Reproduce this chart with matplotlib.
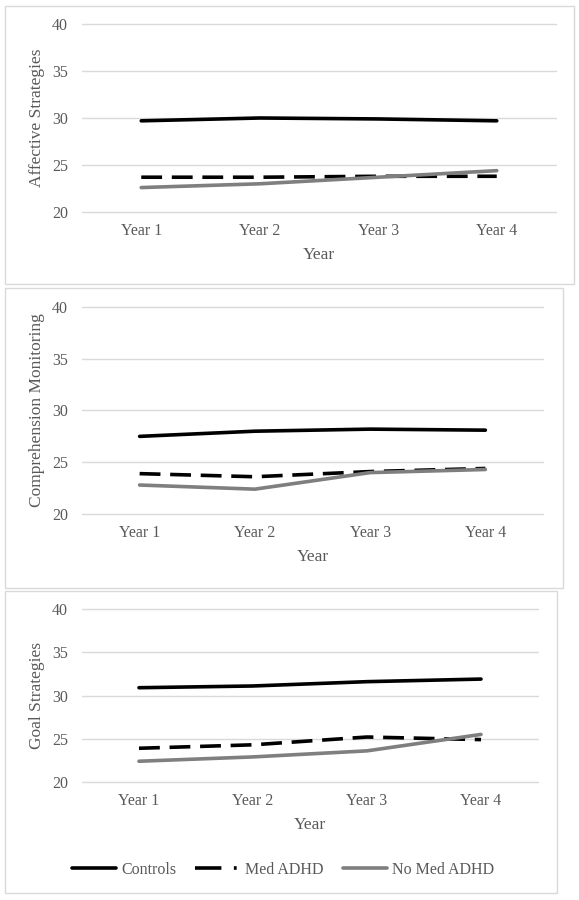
import matplotlib.pyplot as plt
from matplotlib.lines import Line2D
from matplotlib.patches import Rectangle

years = ["Year 1", "Year 2", "Year 3", "Year 4"]
groups = ["Controls", "Med ADHD", "No Med ADHD"]

affective_controls = [29.7, 30.0, 29.9, 29.7]
affective_med = [23.7, 23.7, 23.8, 23.8]
affective_nomed = [22.6, 23.0, 23.7, 24.4]

comprehension_controls = [27.5, 28.0, 28.2, 28.1]
comprehension_med = [23.9, 23.6, 24.1, 24.4]
comprehension_nomed = [22.8, 22.4, 24.0, 24.3]

goal_controls = [30.9, 31.1, 31.6, 31.9]
goal_med = [23.9, 24.3, 25.2, 24.9]
goal_nomed = [22.4, 22.9, 23.6, 25.5]

W, H = 579, 900
FONT = "Liberation Serif"
TXT = "#595959"
GRID = "#d9d9d9"
GRAY = "#7f7f7f"
LW = 2.6
DASH = (15, 7)

plt.rcParams["font.family"] = [FONT, "DejaVu Serif"]
plt.rcParams["lines.scale_dashes"] = False
plt.rcParams["lines.solid_capstyle"] = "round"
plt.rcParams["lines.dash_capstyle"] = "butt"

fig = plt.figure(figsize=(W / 100, H / 100), dpi=100)


def px_rect(x0, y0, x1, y1):
    # pixel box (top-left origin) -> figure fraction [l, b, w, h]
    return [x0 / W, 1 - y1 / H, (x1 - x0) / W, (y1 - y0) / H]


def panel(box, axbox, ylabel, controls, med, nomed):
    l, b, w, h = px_rect(*box)
    fig.patches.append(Rectangle((l, b), w, h, transform=fig.transFigure,
                                 fill=False, edgecolor=GRID, linewidth=1.0))
    ax = fig.add_axes(px_rect(*axbox))
    x = range(len(years))
    ax.plot(x, controls, color="black", lw=LW)
    ax.plot(x, med, color="black", lw=LW, dashes=DASH)
    ax.plot(x, nomed, color=GRAY, lw=LW)
    ax.set_xlim(-0.5, len(years) - 0.5)
    ax.set_ylim(20, 40)
    ax.set_yticks([20, 25, 30, 35, 40])
    ax.set_xticks(list(x))
    ax.set_xticklabels(years)
    ax.grid(axis="y", color=GRID, lw=1.0)
    for gl in ax.get_ygridlines():
        gl.set_clip_on(False)
    ax.set_axisbelow(True)
    for s in ax.spines.values():
        s.set_visible(False)
    ax.tick_params(length=0, labelsize=11.5, colors=TXT)
    ax.tick_params(axis="y", pad=10)
    ax.tick_params(axis="x", pad=8)
    ax_h = axbox[3] - axbox[1]
    ax_w = axbox[2] - axbox[0]
    ax.set_xlabel("Year", fontsize=12.5, color=TXT)
    ax.xaxis.set_label_coords(0.5, -43 / ax_h)
    ax.xaxis.label.set_va("center")
    ax.set_ylabel(ylabel, fontsize=12.5, color=TXT)
    ax.yaxis.set_label_coords(-45 / ax_w, 0.5)
    ax.yaxis.label.set_va("center")
    return ax


panel((5, 6, 574, 284), (82, 24, 556, 212), "Affective Strategies",
      affective_controls, affective_med, affective_nomed)
panel((5, 288, 563, 588), (82, 307, 543, 514), "Comprehension Monitoring",
      comprehension_controls, comprehension_med, comprehension_nomed)
panel((5, 591, 557, 893), (82, 609, 538, 782), "Goal Strategies",
      goal_controls, goal_med, goal_nomed)

handles = [
    Line2D([], [], color="black", lw=LW),
    Line2D([], [], color="black", lw=LW, dashes=(19, 9, 2, 9)),
    Line2D([], [], color=GRAY, lw=LW),
]
fig.legend(handles, groups, loc="center", bbox_to_anchor=(283 / W, 1 - 870 / H),
           ncol=3, frameon=False, fontsize=11.5, labelcolor=TXT,
           handlelength=2.8, handletextpad=0.3, columnspacing=1.2)

fig.savefig("out.png", dpi=100)
